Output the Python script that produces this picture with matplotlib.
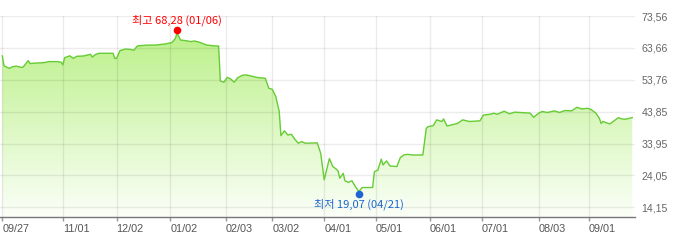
import matplotlib
matplotlib.use("Agg")
import matplotlib.pyplot as plt
import matplotlib.dates as mdates
import matplotlib.transforms as mtrans
from matplotlib.colors import LinearSegmentedColormap
import numpy as np
import pandas as pd

# ---- data ----
dates = ['2021-09-27', '2021-09-28', '2021-10-01', '2021-10-03', '2021-10-05', '2021-10-08', '2021-10-09',
         '2021-10-12', '2021-10-13', '2021-10-17', '2021-10-21', '2021-10-24', '2021-10-29', '2021-10-31',
         '2021-11-01', '2021-11-02', '2021-11-05', '2021-11-07', '2021-11-09', '2021-11-13', '2021-11-17',
         '2021-11-18', '2021-11-20', '2021-11-22', '2021-11-30', '2021-12-01', '2021-12-02', '2021-12-04',
         '2021-12-07', '2021-12-10', '2021-12-12', '2021-12-14', '2021-12-19', '2021-12-25', '2021-12-30',
         '2022-01-03', '2022-01-05', '2022-01-06', '2022-01-08', '2022-01-11', '2022-01-14', '2022-01-16',
         '2022-01-19', '2022-01-23', '2022-01-28', '2022-01-30', '2022-01-31', '2022-02-02', '2022-02-04',
         '2022-02-06', '2022-02-08', '2022-02-10', '2022-02-13', '2022-02-15', '2022-02-18', '2022-02-21',
         '2022-02-26', '2022-02-28', '2022-03-02', '2022-03-04', '2022-03-06', '2022-03-07', '2022-03-09',
         '2022-03-11', '2022-03-13', '2022-03-15', '2022-03-17', '2022-03-19', '2022-03-21', '2022-03-28',
         '2022-03-30', '2022-04-01', '2022-04-04', '2022-04-06', '2022-04-08', '2022-04-09', '2022-04-10',
         '2022-04-12', '2022-04-13', '2022-04-15', '2022-04-17', '2022-04-19', '2022-04-21', '2022-04-23',
         '2022-04-29', '2022-04-30', '2022-05-02', '2022-05-04', '2022-05-05', '2022-05-07', '2022-05-09',
         '2022-05-13', '2022-05-15', '2022-05-17', '2022-05-19', '2022-05-22', '2022-05-28', '2022-05-30',
         '2022-05-31', '2022-06-03', '2022-06-05', '2022-06-08', '2022-06-09', '2022-06-11', '2022-06-17',
         '2022-06-20', '2022-06-24', '2022-06-30', '2022-07-02', '2022-07-06', '2022-07-08', '2022-07-10',
         '2022-07-14', '2022-07-17', '2022-07-20', '2022-07-29', '2022-07-31', '2022-08-03', '2022-08-05',
         '2022-08-08', '2022-08-12', '2022-08-15', '2022-08-18', '2022-08-22', '2022-08-25', '2022-08-28',
         '2022-08-31', '2022-09-02', '2022-09-05', '2022-09-07', '2022-09-08', '2022-09-09', '2022-09-13',
         '2022-09-15', '2022-09-18', '2022-09-20', '2022-09-22', '2022-09-26']
prices = [61.15, 58.1, 57.3, 57.8, 58.0, 57.6, 57.7,
          59.7, 58.8, 58.97, 59.06, 59.4, 59.4, 59.2,
          58.4, 60.6, 61.2, 60.4, 61.05, 61.15, 61.67,
          60.8, 61.67, 61.98, 61.98, 60.4, 60.4, 62.8,
          63.3, 63.2, 62.9, 64.25, 64.5, 64.56, 64.87,
          65.3, 66.6, 68.28, 66.1, 65.9, 65.6, 65.8,
          65.4, 64.56, 64.25, 64.25, 53.4, 52.98, 54.5,
          54.0, 53.0, 54.4, 55.2, 55.25, 54.9, 54.5,
          54.2, 51.1, 50.8, 48.6, 44.0, 36.4, 37.9,
          36.6, 36.85, 35.3, 34.06, 34.56, 34.06, 34.15,
          30.9, 22.7, 29.3, 26.8, 26.0, 25.45, 23.2,
          24.7, 22.4, 21.9, 22.4, 20.6, 19.07, 20.3,
          20.3, 25.2, 25.7, 29.1, 27.3, 28.56, 27.0,
          26.8, 29.6, 30.4, 30.6, 30.4, 30.4, 38.7,
          39.2, 39.5, 41.3, 40.8, 41.6, 39.4, 40.2,
          41.3, 40.8, 41.0, 42.8, 43.05, 43.37, 43.05,
          44.0, 43.2, 43.7, 43.4, 42.1, 43.4, 43.9,
          43.6, 44.1, 43.6, 44.2, 44.1, 45.2, 44.7,
          44.9, 44.6, 43.4, 41.8, 40.2, 40.8, 40.05,
          40.8, 42.0, 41.6, 41.5, 42.0]

xtick_dates = ['2021-09-27', '2021-11-01', '2021-12-02', '2022-01-02', '2022-02-03', '2022-03-02',
               '2022-04-01', '2022-05-01', '2022-06-01', '2022-07-01', '2022-08-03', '2022-09-01']
xtick_labels = ['09/27', '11/01', '12/02', '01/02', '02/03', '03/02',
                '04/01', '05/01', '06/01', '07/01', '08/03', '09/01']
ytick_values = [14.15, 24.05, 33.95, 43.85, 53.76, 63.66, 73.56]
ytick_labels = ['14,15', '24,05', '33,95', '43,85', '53,76', '63,66', '73,56']

high_label = '최고 68,28 (01/06)'
low_label = '최저 19,07 (04/21)'

# ---- figure ----
W, H = 700, 243
fig = plt.figure(figsize=(W / 100, H / 100), dpi=100)
ax_left, ax_right, ax_top, ax_bottom = 0, 635, 16, 217.3
ax = fig.add_axes([ax_left / W, (H - ax_bottom) / H, (ax_right - ax_left) / W, (ax_bottom - ax_top) / H])

x = mdates.date2num(pd.to_datetime(dates))
y = np.array(prices)
x0 = mdates.date2num(pd.Timestamp(dates[0]))
xmin, xmax = x0 - 1.33, x0 + 365.6
ymin, ymax = 11.05, 73.56
ax.set_xlim(xmin, xmax)
ax.set_ylim(ymin, ymax)

# gradient fill under line
poly = ax.fill_between(x, y, ymin, facecolor='none', edgecolor='none')
cmap = LinearSegmentedColormap.from_list('g', ['#fbfff8', '#b6ef80'])
grad = np.linspace(0, 1, 256).reshape(-1, 1)
im = ax.imshow(grad, extent=[xmin, xmax, ymin, ymax], origin='lower', aspect='auto',
               cmap=cmap, zorder=1, interpolation='bilinear')
im.set_clip_path(poly.get_paths()[0], transform=ax.transData)

ax.plot(x, y, color='#66cc33', lw=1.0, zorder=4, solid_joinstyle='round')

# grid
ax.set_xticks(mdates.date2num(pd.to_datetime(xtick_dates)))
ax.set_xticklabels(xtick_labels)
ax.set_yticks(ytick_values)
ax.set_yticklabels(ytick_labels)
ax.grid(True, color='black', alpha=0.075, lw=1.0, zorder=3)
ax.set_axisbelow(False)
for sp in ['top', 'left', 'right']:
    ax.spines[sp].set_visible(False)
ax.spines['bottom'].set_color('#777777')
ax.spines['bottom'].set_linewidth(1.0)
ax.spines['bottom'].set_zorder(5)

ax.yaxis.tick_right()
ax.tick_params(axis='y', length=0, pad=4.5, labelsize=7.6, labelcolor='#666666')
ax.tick_params(axis='x', direction='out', length=3, width=1, color='#999999',
               pad=2, labelsize=7.8, labelcolor='#555555')
for lab in ax.get_xticklabels():
    lab.set_horizontalalignment('left')
    lab.set_fontfamily('Liberation Sans')
for lab in ax.get_yticklabels():
    lab.set_fontfamily('Liberation Sans')

# max / min annotations
imax = int(np.argmax(y))
imin = int(np.argmin(y))
up = mtrans.offset_copy(ax.transData, fig=fig, x=0, y=3, units='dots')
down = mtrans.offset_copy(ax.transData, fig=fig, x=0, y=-2.5, units='dots')
ax.plot([x[imax]], [y[imax]], 'o', color='#ff0000', ms=5.5, mec='none', transform=up, zorder=6, clip_on=False)
ax.plot([x[imin]], [y[imin]], 'o', color='#1e64d2', ms=5.5, mec='none', transform=down, zorder=6, clip_on=False)
fam = ['Noto Sans CJK KR', 'DejaVu Sans']
ax.annotate(high_label, (x[imax], y[imax]), xytext=(0, 13), textcoords='offset pixels',
            ha='center', va='center', color='#ff0000', fontsize=8, family=fam, zorder=7,
            annotation_clip=False)
ax.annotate(low_label, (x[imin], y[imin]), xytext=(0, -12.5), textcoords='offset pixels',
            ha='center', va='center', color='#1e64d2', fontsize=8, family=fam, zorder=7,
            annotation_clip=False)

fig.savefig('out.png', dpi=100)
